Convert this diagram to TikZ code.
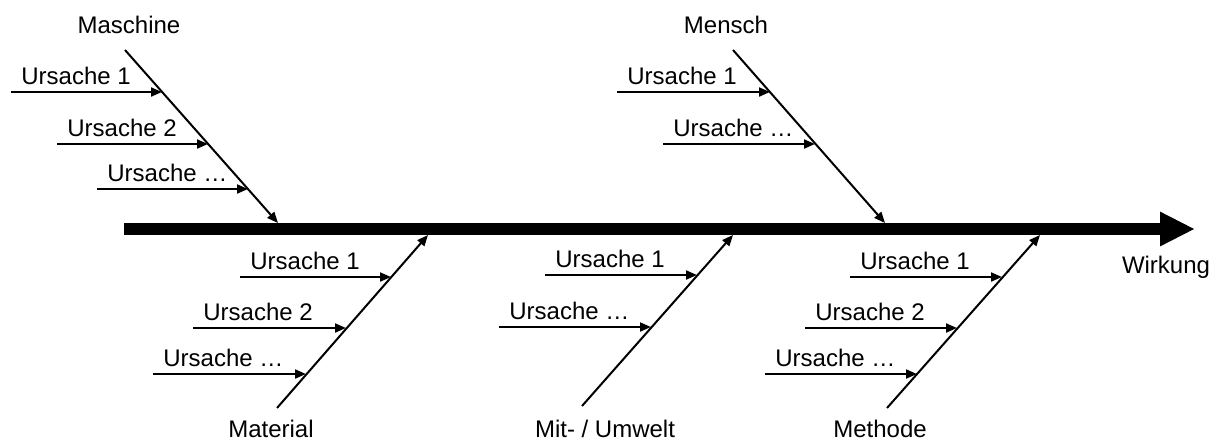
\documentclass[tikz,border=0pt]{standalone}
\usepackage{fontspec}
\setmainfont{Liberation Sans}
\usetikzlibrary{arrows.meta}
\newcommand\causearrow[5]{%
  \coordinate (#1s) at (#2,#4);
  \coordinate (#1e) at (#3,#4);
  \draw[cause] (#1s) -- (#1e);
  \node[txt] (#1t) at ([shift={(10,-7.5)}]#1s) {#5};}
\begin{document}
\begin{tikzpicture}[x=0.5pt,y=-0.5pt,
  cause/.style={line width=1pt,-{Triangle[length=5.5pt,width=4.5pt]}},
  branch/.style={line width=1pt,-{Triangle[length=5.5pt,width=4.5pt]}},
  spine/.style={line width=6pt,-{Triangle[length=17.5pt,width=16pt]}},
  txt/.style={font=\fontsize{12}{14}\selectfont,inner sep=0pt,anchor=base west},
  lbl/.style={font=\fontsize{12}{14}\selectfont,inner sep=0pt,anchor=base}]
\useasboundingbox (0,0) rectangle (1220,440);
% spine
\coordinate (sp0) at (124,229);
\coordinate (sp1) at (1195,229);
\draw[spine] (sp0) -- (sp1);
\node[lbl] (wirkung) at (1166,273) {Wirkung};
% Maschine
\node[lbl] (maschine) at (129,33) {Maschine};
\coordinate (ma0) at (125,50); \coordinate (ma1) at (278,223);
\draw[branch] (ma0) -- (ma1);
\causearrow{maA}{11}{162}{92}{Ursache 1}
\causearrow{maB}{57}{208}{144}{Ursache 2}
\causearrow{maC}{97}{248}{189}{Ursache …}
% Mensch
\node[lbl] (mensch) at (726,33) {Mensch};
\coordinate (me0) at (733,50); \coordinate (me1) at (885,223);
\draw[branch] (me0) -- (me1);
\causearrow{meA}{617}{770}{92}{Ursache 1}
\causearrow{meB}{663}{815}{144}{Ursache …}
% Material
\node[lbl] (material) at (271,437) {Material};
\coordinate (mt0) at (277,408); \coordinate (mt1) at (428,235);
\draw[branch] (mt0) -- (mt1);
\causearrow{mtA}{240}{391}{277}{Ursache 1}
\causearrow{mtB}{193}{346}{328}{Ursache 2}
\causearrow{mtC}{153}{306}{374}{Ursache …}
% Mit- / Umwelt
\node[lbl] (umwelt) at (605,437) {Mit- / Umwelt};
\coordinate (mu0) at (582,406); \coordinate (mu1) at (733,235);
\draw[branch] (mu0) -- (mu1);
\causearrow{muA}{545}{697}{275}{Ursache 1}
\causearrow{muB}{499}{651}{327}{Ursache …}
% Methode
\node[lbl] (methode) at (880,437) {Methode};
\coordinate (mh0) at (887,408); \coordinate (mh1) at (1040,235);
\draw[branch] (mh0) -- (mh1);
\causearrow{mhA}{850}{1002}{277}{Ursache 1}
\causearrow{mhB}{805}{957}{328}{Ursache 2}
\causearrow{mhC}{765}{917}{374}{Ursache …}
\end{tikzpicture}
\end{document}
